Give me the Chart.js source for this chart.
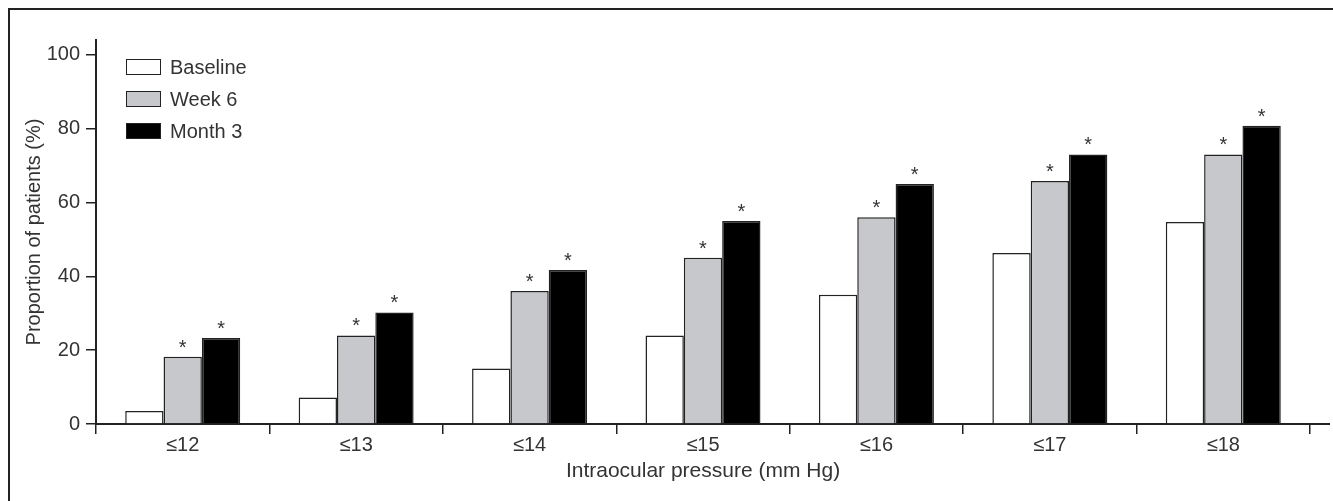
<!DOCTYPE html>
<html>
<head>
<meta charset="utf-8">
<script src="https://cdn.jsdelivr.net/npm/chart.js@4/dist/chart.umd.min.js"></script>
<style>
  html, body { margin: 0; padding: 0; background: #fff; }
  #wrap { position: relative; width: 1333px; height: 501px; overflow: hidden; background: #fff; }
  #c { position: absolute; left: 0; top: 0; }
  .frameTop { position: absolute; left: 8px; top: 8px; width: 1325px; height: 2px; background: #222; }
  .frameLeft { position: absolute; left: 8px; top: 8px; width: 2px; height: 493px; background: #222; }
  #legend { position: absolute; left: 126px; top: 51px; font-family: "Liberation Sans", Arial, sans-serif; font-size: 20px; color: #333; }
  .item { position: relative; height: 32px; display: flex; align-items: center; }
  .box { width: 33px; height: 14px; border: 1.5px solid #222; margin-right: 9px; }
  .item span { line-height: 18px; }
</style>
</head>
<body>
<div id="wrap">
  <div class="frameTop"></div>
  <div class="frameLeft"></div>
  <canvas id="c" width="1333" height="501"></canvas>
  <div id="legend"></div>
</div>
<script>
// ---- data ----
const categories = ['≤12', '≤13', '≤14', '≤15', '≤16', '≤17', '≤18'];
const seriesNames = ['Baseline', 'Week 6', 'Month 3'];
const baseline = [3.5, 7.2, 15, 24, 35, 46.3, 54.7];
const week6 = [18.2, 24, 36, 45, 56, 65.8, 73];
const month3 = [23.3, 30.2, 41.7, 55, 65, 73, 80.8];
const week6Significant = [true, true, true, true, true, true, true];
const month3Significant = [true, true, true, true, true, true, true];
const yTicks = [0, 20, 40, 60, 80, 100];
const yTitle = 'Proportion of patients (%)';
const xTitle = 'Intraocular pressure (mm Hg)';

const seriesValues = [baseline, week6, month3];
const seriesFill = ['#ffffff', '#c6c8cc', '#000000'];
const significance = [null, week6Significant, month3Significant];

const FONT = '"Liberation Sans", Arial, sans-serif';
const TEXT = '#333';
const AXIS = '#222';

// HTML legend
const legendEl = document.getElementById('legend');
seriesNames.forEach((name, i) => {
  const it = document.createElement('div');
  it.className = 'item';
  const b = document.createElement('div');
  b.className = 'box';
  b.style.background = seriesFill[i];
  const s = document.createElement('span');
  s.textContent = name;
  it.appendChild(b); it.appendChild(s);
  legendEl.appendChild(it);
});

const starPlugin = {
  id: 'stars',
  afterDatasetsDraw(chart) {
    const ctx = chart.ctx;
    ctx.save();
    ctx.font = '20px ' + FONT;
    ctx.fillStyle = TEXT;
    ctx.textAlign = 'center';
    ctx.textBaseline = 'alphabetic';
    significance.forEach((flags, di) => {
      if (!flags) return;
      chart.getDatasetMeta(di).data.forEach((bar, i) => {
        if (flags[i]) ctx.fillText('*', bar.x, bar.y - 3);
      });
    });
    ctx.restore();
  }
};

const axisExtend = {
  id: 'axisExtend',
  afterDraw(chart) {
    const ctx = chart.ctx;
    const y0 = chart.scales.y.getPixelForValue(0);
    ctx.save();
    ctx.strokeStyle = AXIS;
    ctx.lineWidth = 2;
    ctx.beginPath();
    ctx.moveTo(chart.chartArea.right, y0);
    ctx.lineTo(chart.chartArea.right + 20, y0);
    ctx.stroke();
    ctx.restore();
  }
};

new Chart(document.getElementById('c'), {
  type: 'bar',
  data: {
    labels: categories,
    datasets: seriesNames.map((name, i) => ({
      label: name,
      data: seriesValues[i],
      backgroundColor: seriesFill[i],
      borderColor: AXIS,
      borderWidth: 1.5,
      barPercentage: 1.0,
      categoryPercentage: 0.663
    }))
  },
  options: {
    responsive: false,
    animation: false,
    layout: { padding: { left: 0, top: 40, right: 23, bottom: 0 } },
    plugins: { legend: { display: false }, tooltip: { enabled: false } },
    scales: {
      x: {
        ticks: { color: TEXT, font: { family: FONT, size: 20 }, padding: -1, maxRotation: 0 },
        grid: { offset: true, drawOnChartArea: false, drawTicks: true, tickLength: 10, color: AXIS, lineWidth: 1.5 },
        border: { color: AXIS, width: 2 },
        title: { display: true, text: xTitle, color: TEXT, font: { family: FONT, size: 21 }, padding: { top: 0, bottom: 17 } },
        afterFit: (s) => { s.height = 77; }
      },
      y: {
        min: 0,
        max: 104,
        afterBuildTicks: (s) => { s.ticks = yTicks.map(v => ({ value: v })); },
        ticks: { color: TEXT, font: { family: FONT, size: 20 }, padding: 6 },
        grid: { drawOnChartArea: false, drawTicks: true, tickLength: 10, color: AXIS, lineWidth: 1.5 },
        border: { color: AXIS, width: 2 },
        title: { display: true, text: yTitle, color: TEXT, font: { family: FONT, size: 20 }, padding: { top: 22, bottom: 0 } },
        afterFit: (s) => { s.width = 96; }
      }
    }
  },
  plugins: [starPlugin, axisExtend]
});
</script>
</body>
</html>
